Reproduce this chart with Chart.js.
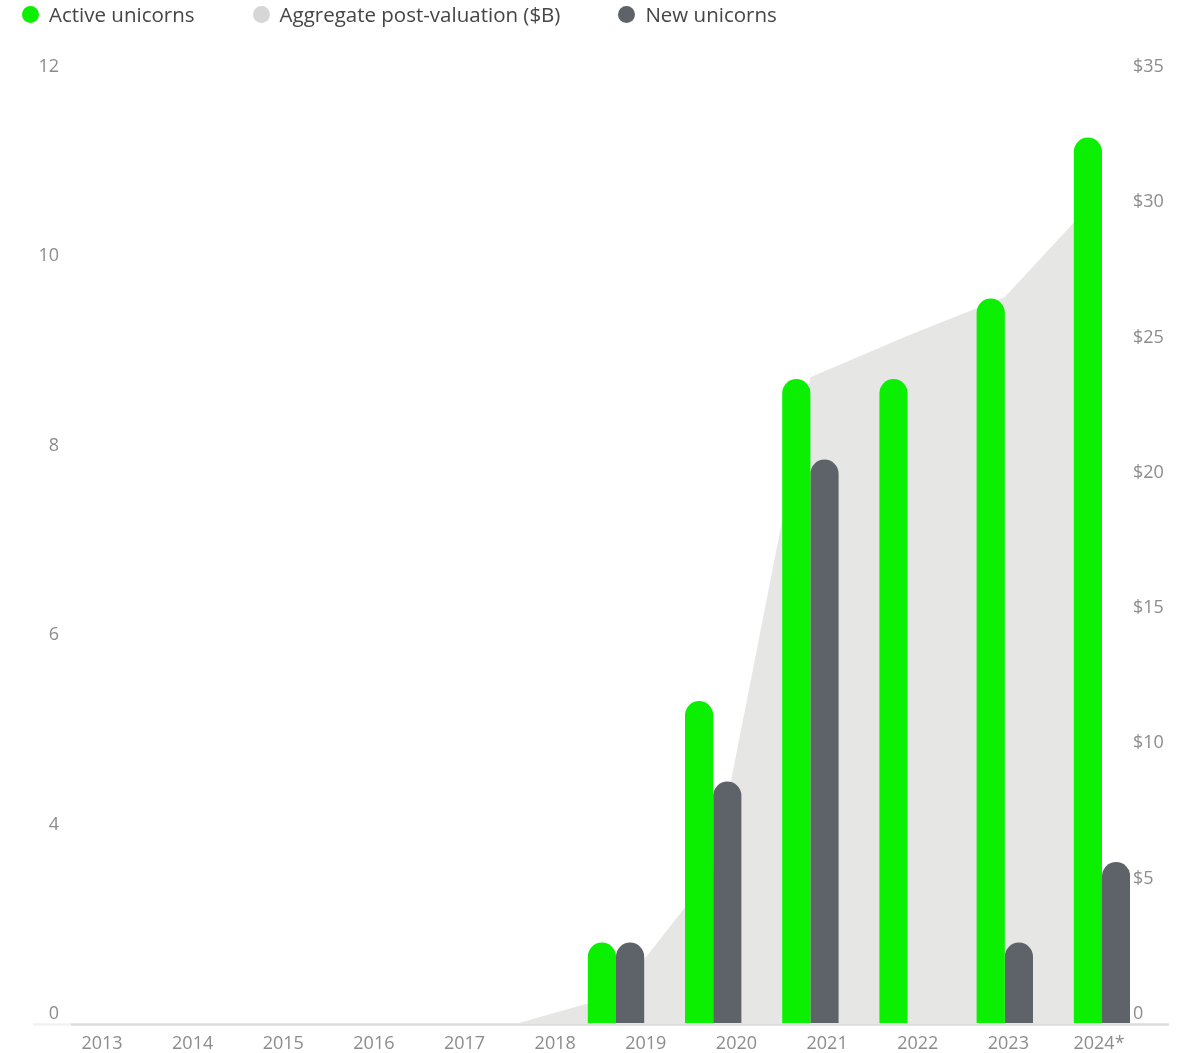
<!DOCTYPE html>
<html>
<head>
<meta charset="utf-8">
<script src="https://cdn.jsdelivr.net/npm/chart.js@4"></script>
<style>
  html, body { margin: 0; padding: 0; background: #fff; }
  body { width: 1191px; height: 1053px; position: relative; overflow: hidden; font-family: "Open Sans", sans-serif; }
  #legend { position: absolute; left: 22px; top: 0; height: 28px; display: flex; align-items: center; z-index: 2; }
  .item { display: flex; align-items: center; margin-right: 58px; font-size: 20.5px; color: #454545; white-space: nowrap; }
  .dot { width: 17px; height: 17px; border-radius: 50%; margin-right: 10px; }
  #wrap { position: absolute; left: 0; top: 0; width: 1191px; height: 1053px; }
</style>
</head>
<body>
<div id="legend"></div>
<div id="wrap"><canvas id="chart"></canvas></div>
<script>
// Years (numeric positions for the bars and the area) and their axis labels
const years = [2013, 2014, 2015, 2016, 2017, 2018, 2019, 2020, 2021, 2022, 2023, 2024];
const yearLabels = ['2013', '2014', '2015', '2016', '2017', '2018', '2019', '2020', '2021', '2022', '2023', '2024*'];

// Series
const activeUnicorns = [0, 0, 0, 0, 0, 0, 1, 4, 8, 8, 9, 11];
const newUnicorns    = [0, 0, 0, 0, 0, 0, 1, 3, 7, 0, 1, 2];
const postValuation  = [0, 0, 0, 0, 0, 0, 1.0, 5.5, 23.4, 24.9, 26.3, 30.1]; // $B

// Axis tick labels (bottom to top)
const countTickLabels = ['0', '4', '6', '8', '10', '12'];
const valueTickLabels = ['0', '$5', '$10', '$15', '$20', '$25', '$30', '$35'];

const GREEN = '#0bef00';
const DARK = '#5e636a';
const AREA = '#e6e6e5';
const AREA_DOT = '#d6d6d6';
const TICK = '#8c8c8c';
const FONT = { family: "'Open Sans', sans-serif", size: 18 };

// Spread a label list evenly over the scale, slightly inset from both ends
function spreadTicks(scale, labels) {
  const lo = scale.min + (scale.max - scale.min) * 0.0095;
  const hi = scale.min + (scale.max - scale.min) * 0.9897;
  scale.ticks = labels.map((_, i) => ({ value: lo + (hi - lo) * i / (labels.length - 1) }));
}

// Light baseline under the bars, running past the right axis labels
const baseline = {
  id: 'baseline',
  beforeDatasetsDraw(chart) {
    const { ctx, chartArea } = chart;
    const y = chart.scales.y.getPixelForValue(0) + 1.5;
    ctx.save();
    ctx.lineWidth = 2.5;
    ctx.strokeStyle = '#f2f2f2';
    ctx.beginPath(); ctx.moveTo(33, y); ctx.lineTo(chartArea.left, y); ctx.stroke();
    ctx.strokeStyle = '#dcdcdc';
    ctx.beginPath(); ctx.moveTo(chartArea.left, y); ctx.lineTo(chartArea.right + 39, y); ctx.stroke();
    ctx.restore();
  }
};

const chart = new Chart(document.getElementById('chart'), {
  data: {
    labels: years,
    datasets: [
      {
        type: 'bar', label: 'Active unicorns', data: activeUnicorns,
        backgroundColor: GREEN, legendColor: GREEN,
        xAxisID: 'xb', yAxisID: 'y', order: 1,
        borderRadius: 20, borderSkipped: 'start',
        categoryPercentage: 0.58, barPercentage: 1.0
      },
      {
        type: 'line', label: 'Aggregate post-valuation ($B)', data: postValuation,
        backgroundColor: AREA, legendColor: AREA_DOT, borderWidth: 0, pointRadius: 0,
        fill: 'origin', tension: 0, xAxisID: 'xb', yAxisID: 'y1', order: 3
      },
      {
        type: 'bar', label: 'New unicorns', data: newUnicorns,
        backgroundColor: DARK, legendColor: DARK,
        xAxisID: 'xb', yAxisID: 'y', order: 2,
        borderRadius: 20, borderSkipped: 'start',
        categoryPercentage: 0.58, barPercentage: 1.0
      }
    ]
  },
  options: {
    responsive: true,
    maintainAspectRatio: false,
    animation: false,
    layout: { padding: { top: 57, left: 0, right: 0, bottom: 0 } },
    plugins: { legend: { display: false }, tooltip: { enabled: false } },
    scales: {
      xb: {
        type: 'linear', display: false, offset: false,
        min: 2013.393, max: 2024.288
      },
      x: {
        type: 'linear', position: 'bottom', offset: false,
        min: -0.342, max: 11.342,
        grid: { display: false, drawTicks: false },
        border: { display: false },
        afterBuildTicks: s => { s.ticks = yearLabels.map((_, i) => ({ value: i })); },
        afterFit: s => { s.height = 30; },
        ticks: {
          autoSkip: false, maxRotation: 0, padding: 10,
          color: TICK, font: FONT,
          callback: (v, i) => yearLabels[i]
        }
      },
      y: {
        type: 'linear', position: 'left', min: 0, max: 12,
        grid: { display: false, drawTicks: false },
        border: { display: false },
        afterBuildTicks: s => spreadTicks(s, countTickLabels),
        afterFit: s => { s.width = 71; },
        ticks: { padding: 12, color: TICK, font: FONT, callback: (v, i) => countTickLabels[i] }
      },
      y1: {
        type: 'linear', position: 'right', min: 0, max: 35,
        grid: { display: false, drawTicks: false },
        border: { display: false },
        afterBuildTicks: s => spreadTicks(s, valueTickLabels),
        afterFit: s => { s.width = 61; },
        ticks: { padding: 3, color: TICK, font: FONT, callback: (v, i) => valueTickLabels[i] }
      }
    }
  },
  plugins: [baseline]
});

// Legend built from the chart's own datasets
const legend = document.getElementById('legend');
chart.data.datasets.forEach(ds => {
  const item = document.createElement('div');
  item.className = 'item';
  const dot = document.createElement('span');
  dot.className = 'dot';
  dot.style.background = ds.legendColor;
  const txt = document.createElement('span');
  txt.textContent = ds.label;
  item.appendChild(dot);
  item.appendChild(txt);
  legend.appendChild(item);
});
</script>
</body>
</html>
